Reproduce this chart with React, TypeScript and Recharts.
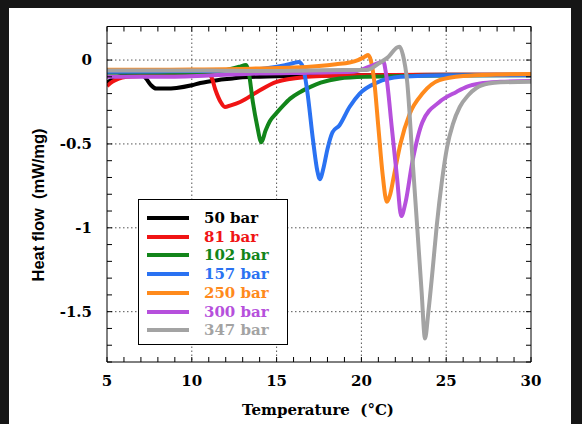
import { LineChart, Line, XAxis, YAxis, CartesianGrid } from "recharts"

// pressures and colours
const seriesNames = ["50 bar", "81 bar", "102 bar", "157 bar", "250 bar", "300 bar", "347 bar"]
const seriesColors = ["#000000", "#f01414", "#12851a", "#2a72f2", "#ff8a1c", "#b650dc", "#a3a3a3"]

// temperature (°C) / heat flow (mW/mg)
const t50 = [5, 5.5, 6, 6.5, 7, 7.3, 7.6, 7.9, 8.5, 9.1, 10, 10.5, 11.5, 12.4, 13, 15, 17, 20, 25, 30]
const hf50 = [-0.135, -0.105, -0.09, -0.08, -0.08, -0.11, -0.15, -0.17, -0.17, -0.166, -0.15, -0.137, -0.12, -0.11, -0.103, -0.097, -0.093, -0.09, -0.088, -0.087]

const t81 = [5, 5.3, 5.7, 6.2, 7, 8, 9, 10, 11, 11.15, 11.4, 11.7, 11.95, 12.3, 12.85, 13.85, 15, 16.8, 18, 20, 25, 30]
const hf81 = [-0.155, -0.13, -0.11, -0.1, -0.095, -0.09, -0.088, -0.085, -0.085, -0.1, -0.18, -0.25, -0.28, -0.27, -0.25, -0.19, -0.13, -0.1, -0.093, -0.09, -0.087, -0.087]

const t102 = [5, 7, 9, 11, 12, 12.8, 13.2, 13.35, 13.6, 13.85, 14.1, 14.35, 14.6, 15, 15.4, 15.8, 16.4, 17, 17.6, 18.7, 20.3, 25, 30]
const hf102 = [-0.075, -0.075, -0.075, -0.072, -0.06, -0.04, -0.03, -0.07, -0.25, -0.39, -0.49, -0.42, -0.365, -0.315, -0.27, -0.23, -0.19, -0.16, -0.135, -0.11, -0.1, -0.092, -0.09]

const t157 = [5, 8, 11, 13, 14.3, 15.5, 16, 16.3, 16.55, 16.8, 17.15, 17.4, 17.55, 17.75, 18, 18.3, 18.7, 19.3, 19.9, 20.9, 22.3, 25, 30]
const hf157 = [-0.07, -0.068, -0.065, -0.06, -0.05, -0.03, -0.018, -0.012, -0.04, -0.18, -0.48, -0.66, -0.71, -0.65, -0.53, -0.43, -0.39, -0.28, -0.2, -0.135, -0.1, -0.09, -0.09]

const t250 = [5, 8, 10, 12, 14, 16, 17.5, 18.5, 19.3, 19.8, 20.2, 20.4, 20.55, 20.75, 21, 21.25, 21.5, 21.7, 21.9, 22.3, 22.85, 23.6, 24.6, 26, 28, 30]
const hf250 = [-0.058, -0.058, -0.057, -0.055, -0.05, -0.045, -0.035, -0.025, -0.015, 0, 0.02, 0.03, 0, -0.12, -0.4, -0.68, -0.845, -0.8, -0.7, -0.5, -0.32, -0.2, -0.12, -0.095, -0.086, -0.083]

const t300 = [5, 8, 11, 14, 17, 19.5, 20.2, 20.7, 21.3, 21.45, 21.8, 22.1, 22.35, 22.6, 23, 23.6, 24.6, 25.6, 26.2, 27, 28.2, 30]
const hf300 = [-0.1, -0.1, -0.092, -0.08, -0.075, -0.07, -0.05, -0.03, -0.01, -0.08, -0.41, -0.7, -0.93, -0.85, -0.61, -0.37, -0.25, -0.19, -0.16, -0.14, -0.13, -0.125]

const t347 = [5, 8, 11, 14, 17, 19, 20.3, 21.1, 21.6, 22.1, 22.25, 22.45, 22.7, 23, 23.3, 23.55, 23.75, 23.95, 24.2, 24.45, 24.75, 25.05, 25.4, 25.8, 26.3, 26.8, 27.5, 28.2, 30]
const hf347 = [-0.062, -0.062, -0.062, -0.065, -0.062, -0.06, -0.06, -0.015, 0.02, 0.075, 0.08, 0.03, -0.13, -0.57, -1.01, -1.38, -1.66, -1.5, -1.25, -0.98, -0.72, -0.52, -0.38, -0.28, -0.21, -0.165, -0.14, -0.133, -0.13]

const temps = [t50, t81, t102, t157, t250, t300, t347]
const flows = [hf50, hf81, hf102, hf157, hf250, hf300, hf347]

// axis ticks (minor every 1 °C / 0.1 mW/mg, labels on majors)
const xTicks = [5, 6, 7, 8, 9, 10, 11, 12, 13, 14, 15, 16, 17, 18, 19, 20, 21, 22, 23, 24, 25, 26, 27, 28, 29, 30]
const xMajor = [5, 10, 15, 20, 25, 30]
const yTicks = [0.2, 0.1, 0, -0.1, -0.2, -0.3, -0.4, -0.5, -0.6, -0.7, -0.8, -0.9, -1, -1.1, -1.2, -1.3, -1.4, -1.5, -1.6, -1.7, -1.8]
const yMajor = [0, -0.5, -1, -1.5]

const series = seriesNames.map((name, i) => ({
  name,
  color: seriesColors[i],
  data: temps[i].map((t, j) => ({ t, hf: flows[i][j] })),
}))

const tickFont = { fontFamily: "DejaVu Serif", fontWeight: 700, fontSize: 15 }
const isMajor = (list: number[], v: number) => list.some((m) => Math.abs(m - v) < 1e-6)

function BottomTick(props: any) {
  const { x, y, payload } = props
  const v = payload.value
  return (
    <g>
      <line x1={x} x2={x} y1={y} y2={y - 5} stroke="#000" />
      {isMajor(xMajor, v) && (
        <text x={x} y={y + 24} textAnchor="middle" fill="#000" style={tickFont}>
          {v}
        </text>
      )}
    </g>
  )
}

function TopTick(props: any) {
  const { x, y } = props
  return <line x1={x} x2={x} y1={y} y2={y + 5} stroke="#000" />
}

function LeftTick(props: any) {
  const { x, y, payload } = props
  const v = payload.value
  return (
    <g>
      <line x1={x} x2={x + 5} y1={y} y2={y} stroke="#000" />
      {isMajor(yMajor, v) && (
        <text x={x - 15} y={y + 5} textAnchor="end" fill="#000" style={tickFont}>
          {String(Math.round(v * 10) / 10)}
        </text>
      )}
    </g>
  )
}

function RightTick(props: any) {
  const { x, y } = props
  return <line x1={x} x2={x - 5} y1={y} y2={y} stroke="#000" />
}

export default function App() {
  return (
    <div style={{ position: "fixed", left: 0, top: 0, width: 582, height: 424, background: "#161616", overflow: "hidden" }}>
      <div style={{ position: "absolute", left: 9, top: 8, width: 562, height: 416, background: "#fff" }} />
      <div style={{ position: "absolute", left: 0, top: 0 }}>
        <LineChart width={582} height={424} margin={{ top: 16.5, right: 41, bottom: 22, left: 47 }}>
          <CartesianGrid
            verticalValues={[10, 15, 20, 25]}
            horizontalValues={[0, -0.5, -1, -1.5]}
            stroke="#555"
            strokeDasharray="1.5 2.5"
          />
          <XAxis
            dataKey="t"
            type="number"
            domain={[5, 30]}
            allowDataOverflow
            ticks={xTicks}
            interval={0}
            tickSize={0}
            tickMargin={0}
            tickLine={false}
            tick={BottomTick}
            axisLine={{ stroke: "#000" }}
            height={40}
          />
          <XAxis
            xAxisId="top"
            orientation="top"
            dataKey="t"
            type="number"
            domain={[5, 30]}
            allowDataOverflow
            ticks={xTicks}
            interval={0}
            tickSize={0}
            tickMargin={0}
            tickLine={false}
            tick={TopTick}
            axisLine={{ stroke: "#000" }}
            height={10}
          />
          <YAxis
            type="number"
            domain={[-1.8, 0.2]}
            allowDataOverflow
            ticks={yTicks}
            interval={0}
            tickSize={0}
            tickMargin={0}
            tickLine={false}
            tick={LeftTick}
            axisLine={{ stroke: "#000" }}
            width={60}
          />
          <YAxis
            yAxisId="right"
            orientation="right"
            type="number"
            domain={[-1.8, 0.2]}
            allowDataOverflow
            ticks={yTicks}
            interval={0}
            tickSize={0}
            tickMargin={0}
            tickLine={false}
            tick={RightTick}
            axisLine={{ stroke: "#000" }}
            width={10}
          />
          {series.map((s) => (
            <Line
              key={s.name}
              data={s.data}
              dataKey="hf"
              name={s.name}
              type="monotone"
              stroke={s.color}
              strokeWidth={4}
              strokeLinejoin="round"
              dot={false}
              activeDot={false}
              isAnimationActive={false}
            />
          ))}
        </LineChart>
      </div>

      {/* axis titles */}
      <div
        style={{
          position: "absolute",
          left: 38,
          top: 205,
          transform: "translate(-50%, -50%) rotate(-90deg)",
          whiteSpace: "pre",
          fontFamily: "Liberation Sans",
          fontWeight: 700,
          fontSize: 16.5,
          color: "#000",
        }}
      >
        {"Heat flow  (mW/mg)"}
      </div>
      <div
        style={{
          position: "absolute",
          left: 318,
          top: 410,
          transform: "translate(-50%, -50%)",
          whiteSpace: "pre",
          ...tickFont,
          color: "#000",
        }}
      >
        {"Temperature  (°C)"}
      </div>

      {/* legend */}
      <div
        style={{
          position: "absolute",
          left: 138,
          top: 199,
          width: 148,
          height: 144,
          border: "1.5px solid #000",
          background: "#fff",
          boxSizing: "content-box",
        }}
      >
        {series.map((s, i) => (
          <div
            key={s.name}
            style={{ position: "absolute", left: 0, top: 9 + i * 18.7, height: 18, display: "flex", alignItems: "center" }}
          >
            <div style={{ marginLeft: 8, width: 42, height: 4, background: s.color }} />
            <div style={{ marginLeft: 15, color: s.color, ...tickFont, lineHeight: "18px" }}>{s.name}</div>
          </div>
        ))}
      </div>
    </div>
  )
}
